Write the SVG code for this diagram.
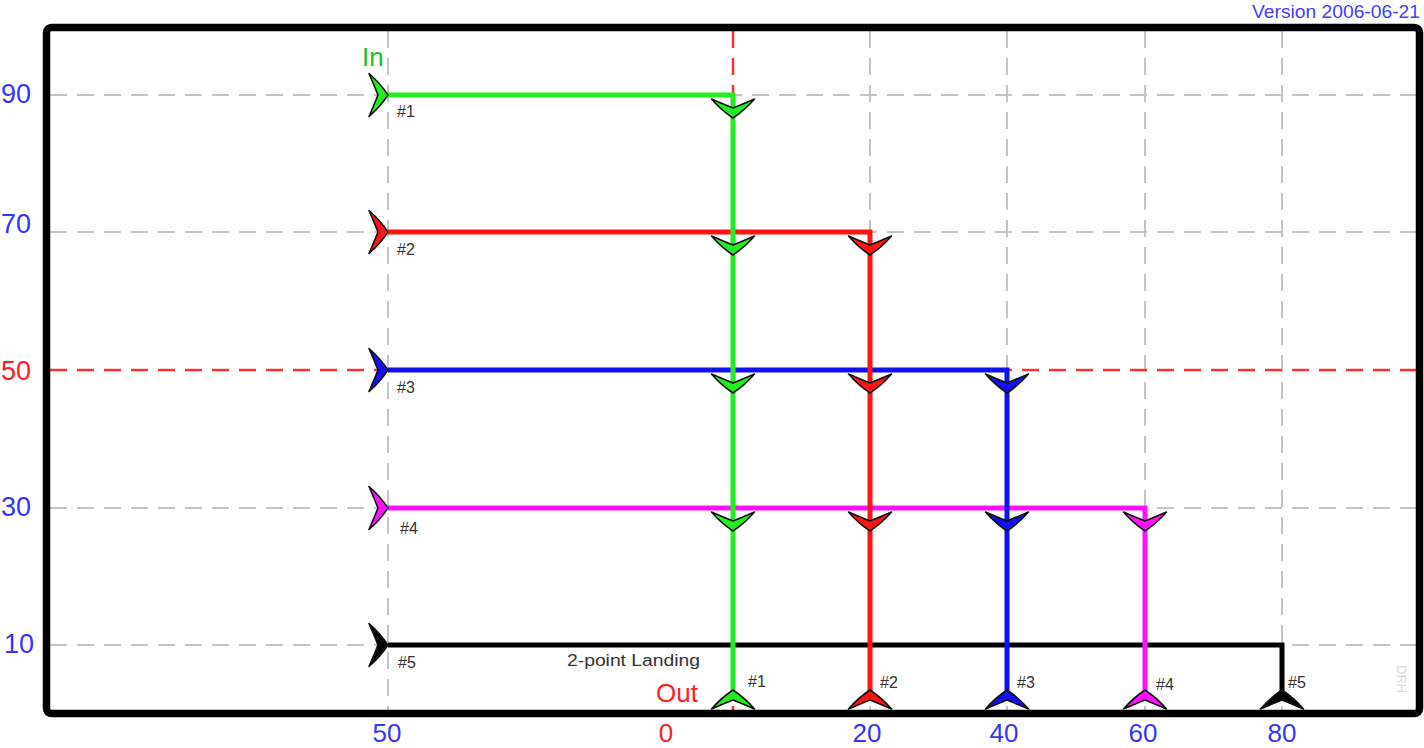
<svg xmlns="http://www.w3.org/2000/svg" width="1424" height="748" viewBox="0 0 1424 748">
<style>
.grid{stroke:#c4c4c4;stroke-width:2;stroke-dasharray:17 10;fill:none}
.gridred{stroke:#ff3030;stroke-width:2.5;stroke-dasharray:17 10;fill:none}
.route{fill:none;stroke-width:5;stroke-linejoin:miter;stroke-linecap:butt}
.ah{stroke:#111;stroke-width:1.6;stroke-linejoin:round}
.ax{font-family:"Liberation Sans",Arial,sans-serif;font-size:27px;fill:#3535ff}
.axb{font-size:26px}
.axr{fill:#ff2020}
.lbl{font-family:"Liberation Sans",Arial,sans-serif;font-size:16px;fill:#333}
</style>
<defs>
<path id="arrow" d="M0,0 Q-8,-12 -19,-21.5 Q-14,-10 -10,0 Q-14,10 -19,21.5 Q-8,12 0,0 Z"/>
</defs>
<rect width="1424" height="748" fill="#fff"/>
<g id="grid">
<path class="grid" d="M50,95 H1417 M50,232 H1417 M50,508 H1417 M50,645 H1417"/>
<path class="grid" d="M388,31 V710 M870,31 V710 M1007,31 V710 M1145,31 V710 M1282,31 V710"/>
<path class="gridred" d="M50,370 H1417 M733,31 V710"/>
</g>
<rect id="frame" x="46.5" y="27.5" width="1373" height="686" rx="5" fill="none" stroke="#000" stroke-width="7.5"/>
<g id="connectors">
<path class="route" stroke="#000" d="M388,645 H1282 V700"/>
<path class="route" stroke="#ff10ff" d="M388,508 H1145 V700"/>
<path class="route" stroke="#1010f0" d="M388,370 H1007 V700"/>
<path class="route" stroke="#ff1414" d="M388,232 H870 V700"/>
<path class="route" stroke="#22ee22" d="M388,95 H733 V700"/>
</g>
<g id="route1">
<use href="#arrow" class="ah" fill="#22ee22" transform="translate(388,95)"/>
<use href="#arrow" class="ah" fill="#22ee22" transform="translate(733,118) rotate(90)"/>
<use href="#arrow" class="ah" fill="#22ee22" transform="translate(733,255) rotate(90)"/>
<use href="#arrow" class="ah" fill="#22ee22" transform="translate(733,393) rotate(90)"/>
<use href="#arrow" class="ah" fill="#22ee22" transform="translate(733,531) rotate(90)"/>
<use href="#arrow" class="ah" fill="#22ee22" transform="translate(733,690) rotate(-90)"/>
<text class="lbl" x="397" y="117">#1</text>
<text class="lbl" x="748" y="687">#1</text>
</g>
<g id="route2">
<use href="#arrow" class="ah" fill="#ff1414" transform="translate(388,232)"/>
<use href="#arrow" class="ah" fill="#ff1414" transform="translate(870,255) rotate(90)"/>
<use href="#arrow" class="ah" fill="#ff1414" transform="translate(870,393) rotate(90)"/>
<use href="#arrow" class="ah" fill="#ff1414" transform="translate(870,531) rotate(90)"/>
<use href="#arrow" class="ah" fill="#ff1414" transform="translate(870,690) rotate(-90)"/>
<text class="lbl" x="397" y="255">#2</text>
<text class="lbl" x="880" y="688">#2</text>
</g>
<g id="route3">
<use href="#arrow" class="ah" fill="#1010f0" transform="translate(388,370)"/>
<use href="#arrow" class="ah" fill="#1010f0" transform="translate(1007,393) rotate(90)"/>
<use href="#arrow" class="ah" fill="#1010f0" transform="translate(1007,531) rotate(90)"/>
<use href="#arrow" class="ah" fill="#1010f0" transform="translate(1007,690) rotate(-90)"/>
<text class="lbl" x="397" y="393">#3</text>
<text class="lbl" x="1017" y="688">#3</text>
</g>
<g id="route4">
<use href="#arrow" class="ah" fill="#ff10ff" transform="translate(388,508)"/>
<use href="#arrow" class="ah" fill="#ff10ff" transform="translate(1145,531) rotate(90)"/>
<use href="#arrow" class="ah" fill="#ff10ff" transform="translate(1145,690) rotate(-90)"/>
<text class="lbl" x="400" y="534">#4</text>
<text class="lbl" x="1156" y="690">#4</text>
</g>
<g id="route5">
<use href="#arrow" class="ah" fill="#000" transform="translate(388,645)"/>
<use href="#arrow" class="ah" fill="#000" transform="translate(1282,690) rotate(-90)"/>
<text class="lbl" x="398" y="668">#5</text>
<text class="lbl" x="1288" y="688">#5</text>
<text class="lbl" x="567" y="666" textLength="133" lengthAdjust="spacingAndGlyphs">2-point Landing</text>
</g>
<g id="labels">
<text x="362" y="66" font-family="Liberation Sans, Arial, sans-serif" font-size="26" fill="#22bb22">In</text>
<text x="656" y="702" font-family="Liberation Sans, Arial, sans-serif" font-size="26" fill="#ff2020">Out</text>
<text x="1420" y="18" text-anchor="end" font-family="Liberation Sans, Arial, sans-serif" font-size="18" fill="#4040ff" textLength="168" lengthAdjust="spacingAndGlyphs">Version 2006-06-21</text>
<text transform="translate(1397,665) rotate(90)" font-family="Liberation Sans, Arial, sans-serif" font-size="13" fill="#d8d8d8">DRH</text>
</g>
<g id="axis-y">
<text class="ax" x="1" y="103">90</text>
<text class="ax" x="1" y="233">70</text>
<text class="ax axr" x="1" y="380">50</text>
<text class="ax" x="1" y="516">30</text>
<text class="ax" x="4" y="653">10</text>
</g>
<g id="axis-x" text-anchor="middle">
<text class="ax axb" x="387" y="742">50</text>
<text class="ax axb axr" x="666" y="742">0</text>
<text class="ax axb" x="867" y="742">20</text>
<text class="ax axb" x="1004" y="742">40</text>
<text class="ax axb" x="1143" y="742">60</text>
<text class="ax axb" x="1282" y="742">80</text>
</g>
</svg>
